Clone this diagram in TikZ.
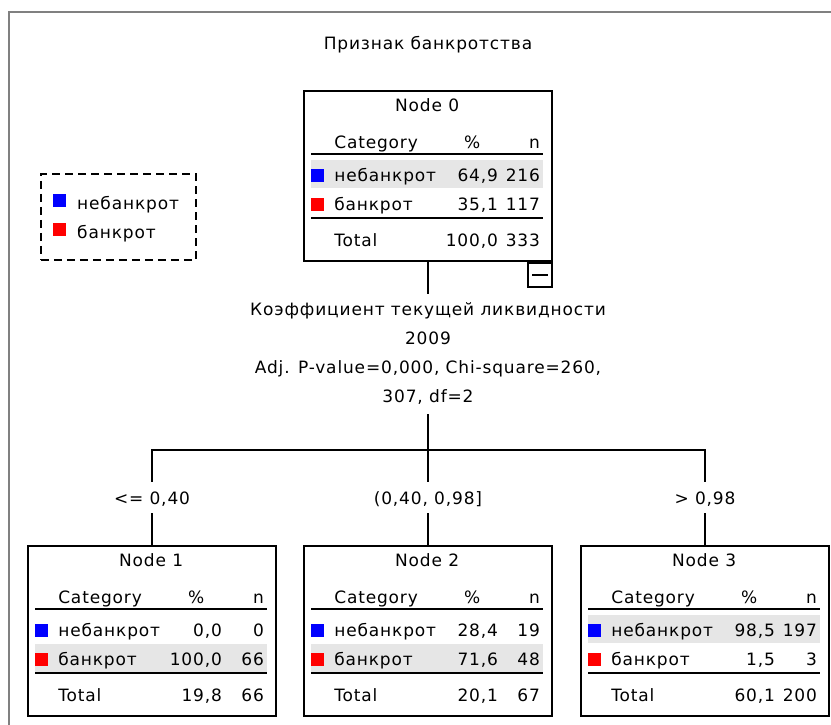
\documentclass[tikz,border=0pt]{standalone}
\usepackage{fontspec}
\setmainfont{DejaVu Sans}[LetterSpace=5]
\usetikzlibrary{positioning}

\definecolor{rowgray}{RGB}{230,230,230}
\definecolor{catblue}{RGB}{0,0,255}
\definecolor{catred}{RGB}{255,0,0}
\definecolor{framegray}{RGB}{128,128,128}

\tikzset{
  cell/.style={inner sep=0pt, font=\fontsize{17}{20}\selectfont},
  statbox/.style={draw, line width=1.8pt, minimum width=248pt, minimum height=170pt,
    anchor=north, inner sep=0pt},
  swatch/.style={minimum size=13pt, inner sep=0pt, anchor=west},
  rule/.style={line width=1.8pt},
  branch/.style={line width=1.8pt},
  cutlabel/.style={cell, anchor=base, text height=17pt, text depth=4pt, inner ysep=5pt}
}

% #1 name, #2 top centre, #3 number, #4 shaded row,
% #5/#6 first row, #7/#8 second row, #9 total %
\newcommand\statnode[9]{%
  \node[statbox] (#1) at (#2) {};
  \begin{scope}[shift={(#1.north west)}]
    \ifnum#4=1 \fill[rowgray] (8,70) rectangle (240,98);
    \else \fill[rowgray] (8,99) rectangle (240,128); \fi
    \node[cell, anchor=base] (#1-title) at (124,21) {Node #3};
    \node[cell, anchor=base west] (#1-hc) at (31,58) {Category};
    \node[cell, anchor=base] (#1-hp) at (169,58) {\%};
    \node[cell, anchor=base east] (#1-hn) at (237,58) {n};
    \draw[rule] (8,64) -- (240,64);
    \node[swatch, fill=catblue] (#1-sa) at (8,85) {};
    \node[cell, anchor=base west] (#1-a) at (31,91) {небанкрот};
    \node[cell, anchor=base east] (#1-ap) at (195,91) {#5};
    \node[cell, anchor=base east] (#1-an) at (237,91) {#6};
    \node[swatch, fill=catred] (#1-sb) at (8,114) {};
    \node[cell, anchor=base west] (#1-b) at (31,120) {банкрот};
    \node[cell, anchor=base east] (#1-bp) at (195,120) {#7};
    \node[cell, anchor=base east] (#1-bn) at (237,120) {#8};
    \draw[rule] (8,128) -- (240,128);
    \node[cell, anchor=base west] (#1-t) at (31,156) {Total};
    \node[cell, anchor=base east] (#1-tp) at (195,156) {#9};
    \node[cell, anchor=base east] (#1-tn) at (237,156) {\the\numexpr#6+#8\relax};
  \end{scope}
}

\begin{document}
\begin{tikzpicture}[x=1pt, y=-1pt]
\useasboundingbox (0,0) rectangle (831,725);

% frame
\draw[framegray, line width=2pt] (9,740) -- (9,12) -- (840,12);

% title
\node[cell, anchor=base] (title) at (428,50) {Признак банкротства};

% legend
\node[draw, line width=1.8pt, dash pattern=on 8pt off 5pt, minimum width=155pt,
  minimum height=86pt, anchor=north west, inner sep=0pt] (legend) at (40,173) {};
\node[swatch, fill=catblue] (leg-a) at (53,200) {};
\node[cell, anchor=base west] (leg-a-text) at (77,209) {небанкрот};
\node[swatch, fill=catred] (leg-b) at (53,229) {};
\node[cell, anchor=base west] (leg-b-text) at (77,238) {банкрот};

% root
\statnode{n0}{428,90}{0}{1}{64,9}{216}{35,1}{117}{100,0}
\node[draw, line width=1.8pt, minimum size=24pt, inner sep=0pt, anchor=north east]
  (collapse) at (n0.south east) {};
\draw[line width=1.8pt] ([xshift=-8pt]collapse.center) -- ([xshift=8pt]collapse.center);

% split
\node[cell, align=center, font=\fontsize{17}{29}\selectfont, inner xsep=0pt, inner ysep=9pt]
  (split) at (428,354) {Коэффициент текущей ликвидности\\2009\\Adj. P-value=0,000, Chi-square=260,\\307, df=2};
\draw[branch] (n0.south) -- (split.north);

% branches
\coordinate (fork) at (428,450);
\node[cutlabel] (cut1) at (152,504) {<= 0,40};
\node[cutlabel] (cut2) at (428,504) {(0,40, 0,98]};
\node[cutlabel] (cut3) at (705,504) {> 0,98};
\draw[branch] (split.south) -- (fork);
\draw[branch] (cut1.north) |- (fork) -| (cut3.north);
\draw[branch] (fork) -- (cut2.north);

% children
\statnode{n1}{152,545}{1}{2}{0,0}{0}{100,0}{66}{19,8}
\statnode{n2}{428,545}{2}{2}{28,4}{19}{71,6}{48}{20,1}
\statnode{n3}{705,545}{3}{1}{98,5}{197}{1,5}{3}{60,1}
\draw[branch] (cut1.south) -- (n1.north);
\draw[branch] (cut2.south) -- (n2.north);
\draw[branch] (cut3.south) -- (n3.north);

\end{tikzpicture}
\end{document}
